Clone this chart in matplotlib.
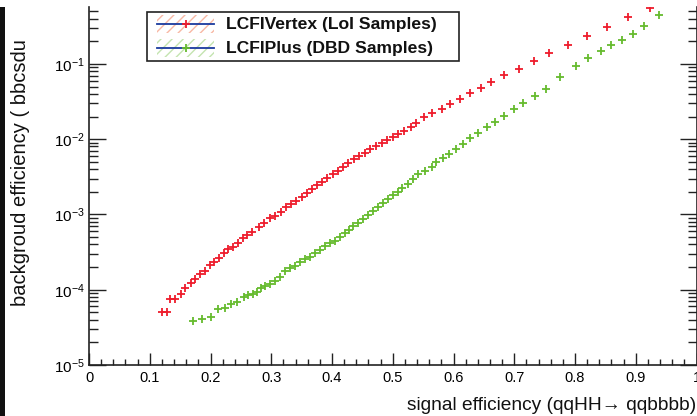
import matplotlib
matplotlib.use('Agg')
import matplotlib.pyplot as plt
from matplotlib.ticker import MultipleLocator, LogLocator, FuncFormatter, NullFormatter
from matplotlib.patches import Rectangle
from matplotlib.lines import Line2D

plt.rcParams['font.family'] = ['Liberation Sans', 'DejaVu Sans']
plt.rcParams['mathtext.fontset'] = 'custom'
plt.rcParams['mathtext.rm'] = 'Liberation Sans'
plt.rcParams['mathtext.it'] = 'Liberation Sans:italic'
plt.rcParams['mathtext.bf'] = 'Liberation Sans:bold'
plt.rcParams['hatch.linewidth'] = 1.0

# LCFIVertex (LoI samples): signal eff vs background eff
vtx_eff = [0.120, 0.128, 0.133, 0.141, 0.151, 0.158, 0.168, 0.174, 0.183, 0.191,
           0.199, 0.206, 0.214, 0.222, 0.229, 0.237, 0.245, 0.253, 0.260, 0.268,
           0.280, 0.288, 0.298, 0.306, 0.316, 0.324, 0.332, 0.340, 0.350, 0.359,
           0.367, 0.375, 0.383, 0.391, 0.401, 0.410, 0.418, 0.426, 0.436, 0.444,
           0.454, 0.462, 0.472, 0.482, 0.490, 0.500, 0.508, 0.518, 0.530, 0.539,
           0.551, 0.564, 0.581, 0.595, 0.610, 0.627, 0.645, 0.661, 0.683, 0.707,
           0.732, 0.758, 0.788, 0.819, 0.852, 0.888, 0.924]
vtx_bkg = [5.06e-5, 5.06e-5, 7.5e-5, 7.5e-5, 8.8e-5, 1.05e-4, 1.23e-4, 1.39e-4, 1.62e-4, 1.77e-4,
           2.13e-4, 2.34e-4, 2.64e-4, 3.08e-4, 3.48e-4, 3.70e-4, 4.18e-4, 4.88e-4, 5.35e-4, 5.85e-4,
           6.83e-4, 7.71e-4, 8.97e-4, 9.55e-4, 1.08e-3, 1.26e-3, 1.38e-3, 1.51e-3, 1.71e-3, 1.93e-3,
           2.18e-3, 2.47e-3, 2.70e-3, 3.05e-3, 3.45e-3, 3.79e-3, 4.27e-3, 4.83e-3, 5.47e-3, 5.98e-3,
           6.56e-3, 7.41e-3, 8.13e-3, 8.91e-3, 9.77e-3, 1.07e-2, 1.17e-2, 1.29e-2, 1.46e-2, 1.64e-2,
           1.98e-2, 2.23e-2, 2.52e-2, 2.94e-2, 3.43e-2, 4.12e-2, 4.80e-2, 5.77e-2, 7.15e-2, 8.59e-2,
           0.110, 0.140, 0.179, 0.236, 0.310, 0.422, 0.555]

# LCFIPlus (DBD samples)
plus_eff = [0.171, 0.186, 0.201, 0.212, 0.224, 0.234, 0.243, 0.255, 0.262, 0.270,
            0.276, 0.283, 0.289, 0.298, 0.306, 0.314, 0.322, 0.331, 0.339, 0.347,
            0.355, 0.363, 0.372, 0.380, 0.388, 0.396, 0.405, 0.413, 0.421, 0.428,
            0.434, 0.442, 0.451, 0.459, 0.467, 0.475, 0.484, 0.492, 0.500, 0.508,
            0.516, 0.525, 0.533, 0.541, 0.553, 0.564, 0.572, 0.582, 0.592, 0.604,
            0.615, 0.627, 0.640, 0.655, 0.669, 0.683, 0.699, 0.714, 0.734, 0.752,
            0.776, 0.801, 0.822, 0.842, 0.860, 0.877, 0.896, 0.914, 0.938]
plus_bkg = [3.85e-5, 4.08e-5, 4.34e-5, 5.55e-5, 5.71e-5, 6.47e-5, 6.87e-5, 8.01e-5, 8.51e-5, 8.79e-5,
            9.33e-5, 1.05e-4, 1.12e-4, 1.19e-4, 1.31e-4, 1.48e-4, 1.77e-4, 1.95e-4, 2.07e-4, 2.34e-4,
            2.56e-4, 2.72e-4, 3.08e-4, 3.37e-4, 3.81e-4, 4.18e-4, 4.45e-4, 5.02e-4, 5.68e-4, 6.22e-4,
            7.03e-4, 7.71e-4, 8.71e-4, 9.84e-4, 1.11e-3, 1.26e-3, 1.42e-3, 1.61e-3, 1.82e-3, 1.99e-3,
            2.25e-3, 2.54e-3, 2.96e-3, 3.45e-3, 3.79e-3, 4.27e-3, 4.99e-3, 5.64e-3, 6.37e-3, 7.41e-3,
            8.65e-3, 1.04e-2, 1.21e-2, 1.46e-2, 1.69e-2, 2.04e-2, 2.52e-2, 3.03e-2, 3.76e-2, 4.66e-2,
            6.71e-2, 9.40e-2, 0.120, 0.149, 0.179, 0.208, 0.251, 0.320, 0.448]

labels = ['LCFIVertex (LoI Samples)', 'LCFIPlus (DBD Samples)']

RED = '#ee1c2c'
GREEN = '#66bb2e'
RED_HATCH = '#f8b8a4'
GREEN_HATCH = '#c4e4b0'
BLUE = '#1a3a9e'
AXC = '#222222'

W, H = 697, 416
fig = plt.figure(figsize=(W / 100, H / 100), dpi=100)


def fx(px):
    return px / W


def fy(py):
    return 1 - py / H


ax = fig.add_axes([fx(89), fy(365), 607.5 / W, (365 - 7) / H])
ax.plot(vtx_eff, vtx_bkg, ls='none', marker='+', ms=6, mew=1.3, color=RED)
ax.plot(plus_eff, plus_bkg, ls='none', marker='+', ms=6, mew=1.3, color=GREEN)

ax.set_yscale('log')
ax.set_xlim(0, 1)
ax.set_ylim(1e-5, 0.57)

ax.xaxis.set_major_locator(MultipleLocator(0.1))
ax.xaxis.set_minor_locator(MultipleLocator(0.02))
ax.xaxis.set_major_formatter(FuncFormatter(lambda v, p: '%g' % round(v, 2)))
ax.yaxis.set_major_locator(LogLocator(base=10))
ax.yaxis.set_minor_locator(LogLocator(base=10, subs=range(2, 10)))
ax.yaxis.set_minor_formatter(NullFormatter())

for s in ['left', 'bottom', 'right']:
    ax.spines[s].set_color(AXC)
    ax.spines[s].set_linewidth(1.2)
ax.spines['top'].set_visible(False)

ax.tick_params(axis='x', which='major', direction='in', length=8.8, width=1.0,
               pad=4, labelsize=10.5, color=AXC, top=False)
ax.tick_params(axis='x', which='minor', direction='in', length=4.2, width=1.0,
               color=AXC, top=False)
ax.tick_params(axis='y', which='major', direction='in', length=12, width=1.0,
               pad=3, labelsize=11, color=AXC, right=True)
ax.tick_params(axis='y', which='minor', direction='in', length=6.5, width=1.0,
               color=AXC, right=True)

fig.text(fx(696), fy(406), 'signal efficiency (qqHH\u2192 qqbbbb)', ha='right',
         va='center', fontsize=13.8, color='#111111')
fig.text(fx(21), fy(306), 'backgroud efficiency ( bbcsdu', rotation=90,
         ha='center', va='bottom', fontsize=14.5, color='#111111')

# dark strip on the left edge of the original screenshot
fig.add_artist(Rectangle((0, 0), 5 / W, (H - 7) / H, transform=fig.transFigure,
                         facecolor='#111111', edgecolor='none', zorder=-1))

# legend box, ROOT style
fig.add_artist(Rectangle((fx(147), fy(61)), (459 - 147) / W, (61 - 12) / H,
                         transform=fig.transFigure, facecolor='white',
                         edgecolor=AXC, lw=1.2, zorder=5))
for label, col, hcol, row in zip(labels, [RED, GREEN], [RED_HATCH, GREEN_HATCH], [24, 48]):
    fig.add_artist(Rectangle((fx(157), fy(row + 9)), 57 / W, 18 / H,
                             transform=fig.transFigure, facecolor='none',
                             edgecolor=hcol, hatch='///', lw=0, zorder=6))
    fig.add_artist(Line2D([fx(157), fx(214)], [fy(row), fy(row)],
                          transform=fig.transFigure, color=BLUE, lw=1.3, zorder=7))
    fig.add_artist(Line2D([fx(186)], [fy(row)], transform=fig.transFigure,
                          ls='none', marker='+', ms=6, mew=1.3, color=col, zorder=8))
    fig.text(fx(226), fy(row), label, fontsize=12.6, fontweight='bold',
             ha='left', va='center', color='#111111', zorder=9)

fig.savefig('out.png', dpi=100)
